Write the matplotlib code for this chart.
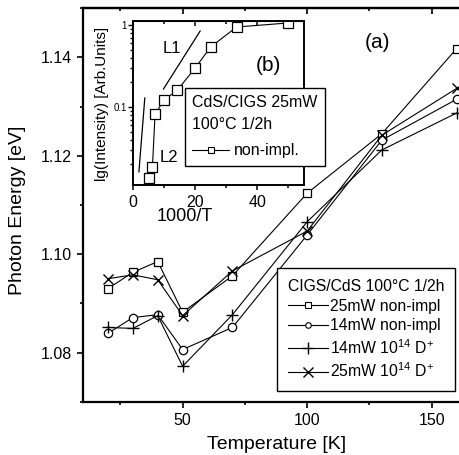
import matplotlib
matplotlib.use('Agg')
import matplotlib.pyplot as plt
from matplotlib.lines import Line2D
from matplotlib.ticker import FixedLocator, NullFormatter, LogLocator

plt.rcParams['font.family'] = ['Liberation Sans', 'DejaVu Sans']
plt.rcParams['mathtext.fontset'] = 'custom'
plt.rcParams['mathtext.rm'] = 'Liberation Sans'

# ---- main panel data ----
temperature = [20, 30, 40, 50, 70, 100, 130, 160]
e_25mw_nonimpl = [1.0930, 1.0963, 1.0985, 1.0882, 1.0956, 1.1124, 1.1245, 1.1418]
e_14mw_nonimpl = [1.0839, 1.0871, 1.0877, 1.0806, 1.0851, 1.1039, 1.1232, 1.1315]
e_14mw_impl = [1.0851, 1.0849, 1.0875, 1.0772, 1.0877, 1.1066, 1.1212, 1.1287]
e_25mw_impl = [1.0950, 1.0958, 1.0948, 1.0875, 1.0966, 1.1047, 1.1242, 1.1337]
series_labels = ['25mW non-impl', '14mW non-impl',
                 r'14mW $\mathregular{10^{14}}$ $\mathregular{D^{+}}$',
                 r'25mW $\mathregular{10^{14}}$ $\mathregular{D^{+}}$']

# ---- inset data ----
inv_t = [5.0, 6.25, 7.1, 10.0, 14.3, 20.0, 25.0, 33.3, 50.0]
intensity = [0.0136, 0.0186, 0.082, 0.122, 0.161, 0.30, 0.54, 0.946, 1.06]
l1_x = [9.8, 21.6]
l1_y = [0.166, 0.845]
l2_x = [1.9, 3.8]
l2_y = [0.0162, 0.129]

W, H = 460, 455
fig = plt.figure(figsize=(W / 100, H / 100), dpi=100)


def frac(x0, y0, x1, y1):
    return [x0 / W, 1 - y1 / H, (x1 - x0) / W, (y1 - y0) / H]


ax = fig.add_axes(frac(83, 8.3, 461.6, 401.7))
lw = 0.8
ax.plot(temperature, e_25mw_nonimpl, color='black', lw=lw, marker='s', ms=5.5, mfc='white', mec='black', mew=0.9)
ax.plot(temperature, e_14mw_nonimpl, color='black', lw=lw, marker='o', ms=6, mfc='white', mec='black', mew=0.9)
ax.plot(temperature, e_14mw_impl, color='black', lw=lw, marker='+', ms=9, mew=1.0)
ax.plot(temperature, e_25mw_impl, color='black', lw=lw, marker='x', ms=7.5, mew=1.0)

ax.set_xlim(10, 162)
ax.set_ylim(1.07, 1.15)
ax.xaxis.set_major_locator(FixedLocator([50, 100, 150]))
ax.xaxis.set_minor_locator(FixedLocator([25, 75, 125]))
ax.yaxis.set_major_locator(FixedLocator([1.08, 1.10, 1.12, 1.14]))
ax.yaxis.set_minor_locator(FixedLocator([1.07, 1.09, 1.11, 1.13, 1.15]))
ax.yaxis.set_major_formatter(matplotlib.ticker.FormatStrFormatter('%.2f'))
ax.tick_params(which='both', direction='out', labelsize=11.5, width=1.2)
ax.tick_params(which='major', length=4.5)
ax.tick_params(which='minor', length=2.5)
for s in ['left', 'bottom', 'top']:
    ax.spines[s].set_linewidth(1.6)
ax.spines['right'].set_visible(False)

sec = ax.secondary_xaxis('top')
sec.xaxis.set_major_locator(FixedLocator([50, 100, 150]))
sec.xaxis.set_minor_locator(FixedLocator([25, 75, 125]))
sec.tick_params(which='both', direction='in', labeltop=False, width=1.2)
sec.tick_params(which='major', length=4.5)
sec.tick_params(which='minor', length=2.5)
sec.spines['top'].set_linewidth(1.6)

ax.set_xlabel('Temperature [K]', fontsize=14, va='center')
ax.xaxis.set_label_coords(0.512, -0.110)
ax.set_ylabel('Photon Energy [eV]', fontsize=14, va='center')
ax.yaxis.set_label_coords(-0.172, 0.487)
ax.text(0.777, 0.914, '(a)', transform=ax.transAxes, fontsize=15, ha='center', va='center')

handles = [
    Line2D([], [], color='black', lw=lw, marker='s', ms=4.5, mfc='white', mec='black', mew=0.8),
    Line2D([], [], color='black', lw=lw, marker='o', ms=4, mfc='white', mec='black', mew=0.8),
    Line2D([], [], color='black', lw=lw, marker='+', ms=8, mew=1.0),
    Line2D([], [], color='black', lw=lw, marker='x', ms=7, mew=1.0),
]
leg = ax.legend(handles, series_labels, title='CIGS/CdS 100°C 1/2h',
                loc='upper left', bbox_to_anchor=(277 / W, 1 - 268 / H),
                bbox_transform=fig.transFigure, fontsize=11.3, title_fontsize=11.3,
                frameon=True, fancybox=False, edgecolor='black', framealpha=1,
                handlelength=2.55, handletextpad=0.15, borderpad=0.7,
                labelspacing=0.3, borderaxespad=0, alignment='left')
leg.get_frame().set_linewidth(1.0)

# ---- inset ----
ax_in = fig.add_axes(frac(133, 21, 304, 185))
ax_in.set_yscale('log')
ax_in.plot(inv_t, intensity, color='black', lw=lw, marker='s', ms=6.5, mfc='white', mec='black', mew=0.9)
ax_in.plot(l1_x, l1_y, color='black', lw=0.9)
ax_in.plot(l2_x, l2_y, color='black', lw=0.9)
ax_in.text(12.4, 0.52, 'L1', fontsize=12, ha='center', va='center')
ax_in.text(11.4, 0.0245, 'L2', fontsize=12, ha='center', va='center')
ax_in.text(0.79, 0.73, '(b)', transform=ax_in.transAxes, fontsize=15, ha='center', va='center')
ax_in.set_xlim(0, 55)
ax_in.set_ylim(0.0112, 1.12)
ax_in.xaxis.set_major_locator(FixedLocator([0, 20, 40]))
ax_in.xaxis.set_minor_locator(FixedLocator([10, 30, 50]))
ax_in.yaxis.set_major_locator(FixedLocator([0.1, 1]))
ax_in.yaxis.set_major_formatter(matplotlib.ticker.FixedFormatter(['0.1', '1']))
ax_in.yaxis.set_minor_locator(LogLocator(base=10, subs=range(2, 10)))
ax_in.yaxis.set_minor_formatter(NullFormatter())
ax_in.tick_params(axis='x', which='both', direction='out', labelsize=11.5, width=1.1, top=False)
ax_in.tick_params(axis='y', which='both', direction='out', labelsize=7, width=1.0, pad=1)
ax_in.tick_params(which='major', length=3.5)
ax_in.tick_params(which='minor', length=2)
for s in ax_in.spines.values():
    s.set_linewidth(1.4)
sec_in = ax_in.secondary_xaxis('top')
sec_in.xaxis.set_major_locator(FixedLocator([0, 20, 40]))
sec_in.xaxis.set_minor_locator(FixedLocator([10, 30, 50]))
sec_in.tick_params(which='both', direction='in', labeltop=False, width=1.1)
sec_in.tick_params(which='major', length=3.5)
sec_in.tick_params(which='minor', length=2)
ax_in.set_xlabel('1000/T', fontsize=13, va='center')
ax_in.xaxis.set_label_coords(0.30, -0.195)
ax_in.set_ylabel('lg(Intensity) [Arb.Units]', fontsize=11, va='center')
ax_in.yaxis.set_label_coords(-0.181, 0.497)

in_handle = [Line2D([], [], color='black', lw=lw, marker='s', ms=5, mfc='white', mec='black', mew=0.8)]
leg_in = ax_in.legend(in_handle, ['non-impl.'], title='CdS/CIGS 25mW\n100°C 1/2h',
                      loc='upper left', bbox_to_anchor=(185 / W, 1 - 88 / H),
                      bbox_transform=fig.transFigure, fontsize=11.5, title_fontsize=11.5,
                      frameon=True, fancybox=False, edgecolor='black', framealpha=1,
                      handlelength=2.3, handletextpad=0.3, borderpad=0.45,
                      borderaxespad=0, alignment='left')
leg_in.get_title().set_linespacing(1.6)
leg_in._legend_box.sep = 8
leg_in.get_frame().set_linewidth(1.0)
leg_in.set_zorder(10)

fig.savefig('out.png', dpi=100)
